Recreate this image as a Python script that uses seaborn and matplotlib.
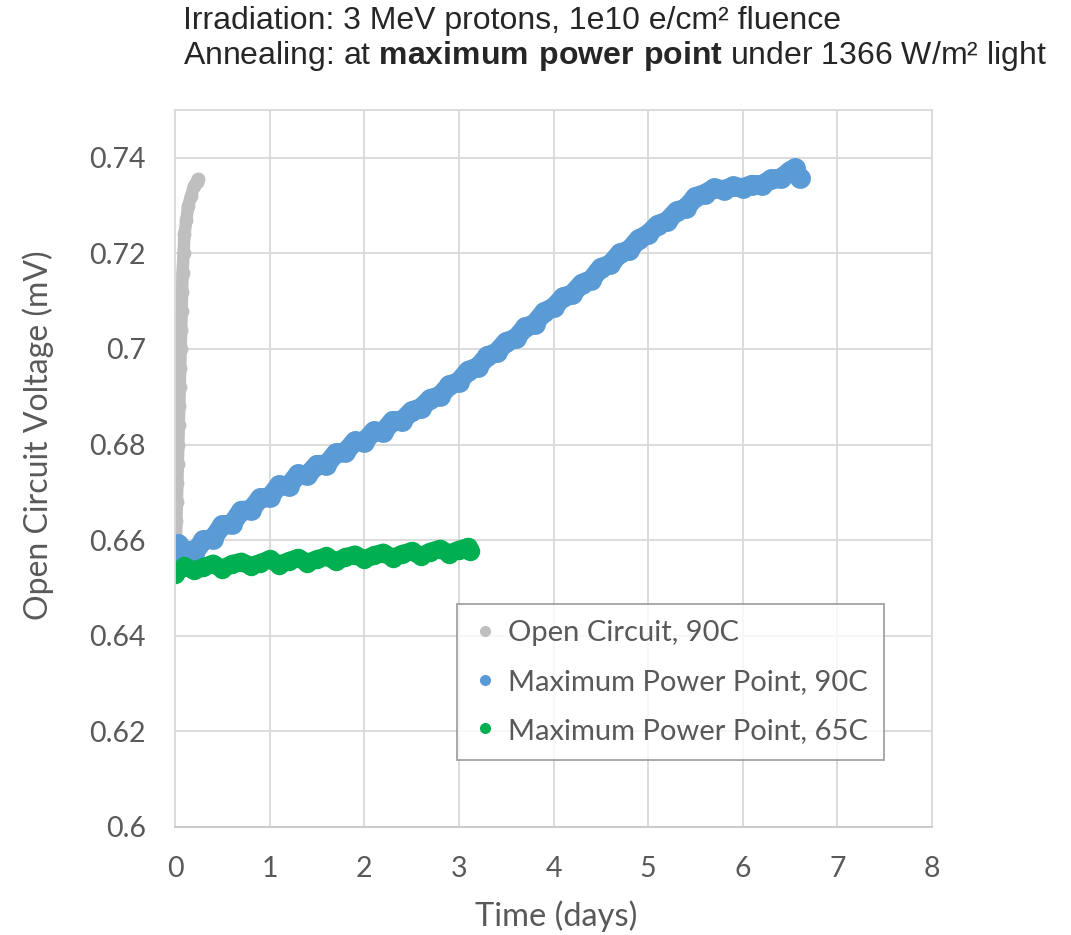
import pandas as pd
import matplotlib.pyplot as plt
from matplotlib.lines import Line2D
import seaborn as sns

# Open circuit, 90C (grey)
oc90_days = [0.005, 0.01, 0.015, 0.02, 0.025, 0.03, 0.035, 0.04, 0.045, 0.05, 0.055, 0.06,
             0.065, 0.07, 0.075, 0.08, 0.09, 0.10, 0.12, 0.14, 0.17, 0.20, 0.23, 0.24]
oc90_voc = [0.656, 0.660, 0.664, 0.668, 0.672, 0.676, 0.680, 0.684, 0.688, 0.692, 0.696, 0.700,
            0.704, 0.708, 0.712, 0.716, 0.720, 0.724, 0.727, 0.730, 0.732, 0.734, 0.735, 0.7355]

# Maximum power point, 90C (blue)
mpp90_days = [0.0, 0.03, 0.08, 0.15, 0.2, 0.3, 0.4, 0.5, 0.6, 0.7, 0.8, 0.9, 1.0,
              1.1, 1.2, 1.3, 1.4, 1.5, 1.6, 1.7, 1.8, 1.9, 2.0, 2.1, 2.2, 2.3, 2.4, 2.5,
              2.6, 2.7, 2.8, 2.9, 3.0, 3.1, 3.2, 3.3, 3.4, 3.5, 3.6, 3.7, 3.8, 3.9, 4.0,
              4.1, 4.2, 4.3, 4.4, 4.5, 4.6, 4.7, 4.8, 4.9, 5.0, 5.1, 5.2, 5.3, 5.4, 5.5,
              5.6, 5.7, 5.8, 5.9, 6.0, 6.1, 6.2, 6.3, 6.4, 6.5, 6.55, 6.6]
mpp90_voc = [0.6580, 0.6592, 0.6562, 0.6578, 0.6572, 0.6600, 0.6603, 0.6632, 0.6633, 0.6662, 0.6663, 0.6688, 0.6690,
             0.6715, 0.6713, 0.6738, 0.6736, 0.6758, 0.6758, 0.6782, 0.6784, 0.6807, 0.6806, 0.6828, 0.6826, 0.6850, 0.6850, 0.6870,
             0.6877, 0.6896, 0.6902, 0.6924, 0.6932, 0.6955, 0.6962, 0.6985, 0.6993, 0.7015, 0.7022, 0.7045, 0.7053, 0.7077, 0.7087,
             0.7108, 0.7115, 0.7137, 0.7145, 0.7170, 0.7177, 0.7200, 0.7207, 0.7230, 0.7240, 0.7260, 0.7267, 0.7288, 0.7295, 0.7318,
             0.7325, 0.7336, 0.7333, 0.7340, 0.7337, 0.7344, 0.7343, 0.7355, 0.7357, 0.7372, 0.7378, 0.7358]

# Maximum power point, 65C (green)
mpp65_days = [0.0, 0.1, 0.2, 0.3, 0.4, 0.5, 0.6, 0.7, 0.8, 0.9, 1.0, 1.1, 1.2, 1.3, 1.4, 1.5,
              1.6, 1.7, 1.8, 1.9, 2.0, 2.1, 2.2, 2.3, 2.4, 2.5, 2.6, 2.7, 2.8, 2.9, 3.0, 3.1, 3.12]
mpp65_voc = [0.6530, 0.6545, 0.6537, 0.6543, 0.6551, 0.6540, 0.6550, 0.6555, 0.6546, 0.6552, 0.6560,
             0.6549, 0.6556, 0.6563, 0.6553, 0.6560, 0.6566, 0.6556, 0.6564, 0.6570, 0.6560, 0.6568,
             0.6574, 0.6563, 0.6571, 0.6577, 0.6567, 0.6576, 0.6582, 0.6572, 0.6580, 0.6586, 0.6578]

labels = ["Open Circuit, 90C", "Maximum Power Point, 90C", "Maximum Power Point, 65C"]
colors = ["#bfbfbf", "#5b9bd5", "#00b050"]
widths = [9, 14, 13]

x_ticks = [0, 1, 2, 3, 4, 5, 6, 7, 8]
y_ticks = [0.6, 0.62, 0.64, 0.66, 0.68, 0.7, 0.72, 0.74]
y_ticklabels = ["0.6", "0.62", "0.64", "0.66", "0.68", "0.7", "0.72", "0.74"]

sns.set_style("white")
plt.rcParams['font.family'] = ['Lato', 'DejaVu Sans']
plt.rcParams['mathtext.fontset'] = 'custom'
plt.rcParams['mathtext.rm'] = 'Liberation Sans'
plt.rcParams['mathtext.bf'] = 'Liberation Sans:bold'

txt = "#595959"
grid = "#d9d9d9"

fig = plt.figure(figsize=(10.71, 9.35), dpi=100)
ax = fig.add_axes([175 / 1071, 1 - 827 / 935, 757 / 1071, 717 / 935])

series = [(oc90_days, oc90_voc), (mpp90_days, mpp90_voc), (mpp65_days, mpp65_voc)]
for (d, v), col, w in zip(series, colors, widths):
    df = pd.DataFrame({"days": d, "voc": v})
    sns.lineplot(data=df, x="days", y="voc", ax=ax, color=col, estimator=None, sort=False,
                 lw=w, marker="o", markersize=w + 1, markeredgewidth=0,
                 solid_capstyle="round", solid_joinstyle="round", legend=False)

ax.set_xlim(0, 8)
ax.set_ylim(0.6, 0.75)
ax.set_xticks(x_ticks)
ax.set_xticklabels([str(t) for t in x_ticks])
ax.set_yticks(y_ticks)
ax.set_yticklabels(y_ticklabels)
ax.tick_params(length=0, labelsize=20.5, colors=txt)
ax.tick_params(axis="y", pad=21)
ax.tick_params(axis="x", pad=21)
ax.grid(True, color=grid, lw=1.3)
ax.set_axisbelow(True)
for s in ax.spines.values():
    s.set_color(grid)
    s.set_linewidth(1.3)
ax.spines["bottom"].set_color("#c8c8c8")

ax.set_xlabel("Time (days)", fontsize=23.5, color=txt)
ax.set_ylabel("Open Circuit Voltage (mV)", fontsize=23, color=txt)
ax.xaxis.set_label_coords(0.503, -0.102)
ax.yaxis.set_label_coords(-0.16, 0.546)

handles = [Line2D([], [], ls="", marker="o", markersize=8, markeredgewidth=0, color=c) for c in colors]
leg = ax.legend(handles, labels, loc="upper left", bbox_to_anchor=(0.373, 0.311), borderaxespad=0,
                fontsize=21, frameon=True, fancybox=False, edgecolor="#8c8c8c",
                handlelength=0.8, handletextpad=0.4, labelspacing=0.78, borderpad=0.55)
leg.get_frame().set_linewidth(1.3)
for t in leg.get_texts():
    t.set_color(txt)

fig.text(183 / 1071, 1 - 29 / 935, "Irradiation: 3 MeV protons, 1e10 e/cm² fluence",
         fontsize=23, family="Liberation Sans", va="baseline", ha="left")
fig.text(183 / 1071, 1 - 64 / 935,
         r"Annealing: at $\mathbf{maximum\ power\ point}$ under 1366 W/m² light",
         fontsize=23, family="Liberation Sans", va="baseline", ha="left")

fig.savefig("out.png", dpi=100)
